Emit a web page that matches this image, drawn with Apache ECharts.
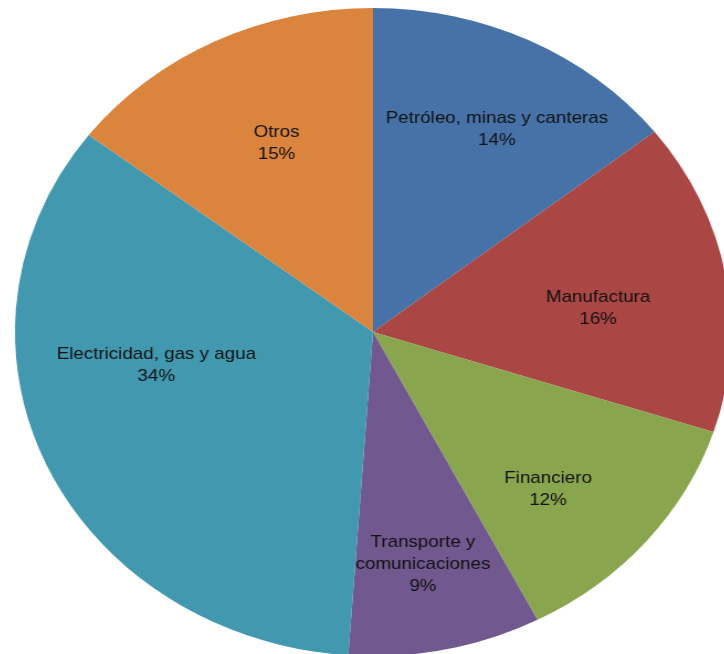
<!DOCTYPE html>
<html>
<head>
<meta charset="utf-8">
<script src="https://cdn.jsdelivr.net/npm/echarts@6/dist/echarts.min.js"></script>
<style>
html,body{margin:0;padding:0;background:#fff;overflow:hidden;}
#wrap{width:724px;height:654px;overflow:hidden;position:relative;}
#chart{width:724px;height:660px;transform-origin:373px 332px;transform:scaleX(1.105);}
</style>
</head>
<body>
<div id="wrap"><div id="chart"></div></div>
<script>
// Data
const categories = ['Petróleo, minas y canteras','Manufactura','Financiero','Transporte y\ncomunicaciones','Electricidad, gas y agua','Otros'];
const shares = [14.4, 15.6, 12.4, 8.7, 34.3, 14.6];
// Styles
const colors = ['#4672A8','#AA4644','#89A54E','#71588F','#4198AF','#DB843D'];
const labelNudge = [[19,-11],[-6,14],[-4,19],[2,24],[-2,-54],[7,2]];

const pieData = categories.map((c,i)=>({name:c,value:shares[i],itemStyle:{color:colors[i]}}));
const labelData = categories.map((c,i)=>({name:c,value:shares[i]}));

const chart = echarts.init(document.getElementById('chart'), null, {renderer:'canvas'});
chart.setOption({
  animation:false,
  series:[
    {
      type:'pie',
      center:[373,332],
      radius:[0,324],
      startAngle:90,
      clockwise:true,
      silent:true,
      label:{show:false},
      labelLine:{show:false},
      itemStyle:{borderWidth:0},
      data:pieData
    },
    {
      type:'pie',
      center:[373,332],
      radius:[110,310],
      startAngle:90,
      clockwise:true,
      silent:true,
      itemStyle:{color:'rgba(0,0,0,0)',borderWidth:0},
      labelLine:{show:false},
      label:{
        show:true,
        position:'inside',
        color:'#111',
        fontFamily:'Liberation Sans',
        fontSize:17,
        lineHeight:22,
        formatter:p=>p.name+'\n'+Math.round(p.percent)+'%'
      },
      labelLayout:p=>({dx:labelNudge[p.dataIndex][0],dy:labelNudge[p.dataIndex][1]}),
      data:labelData
    }
  ]
});
</script>
</body>
</html>
